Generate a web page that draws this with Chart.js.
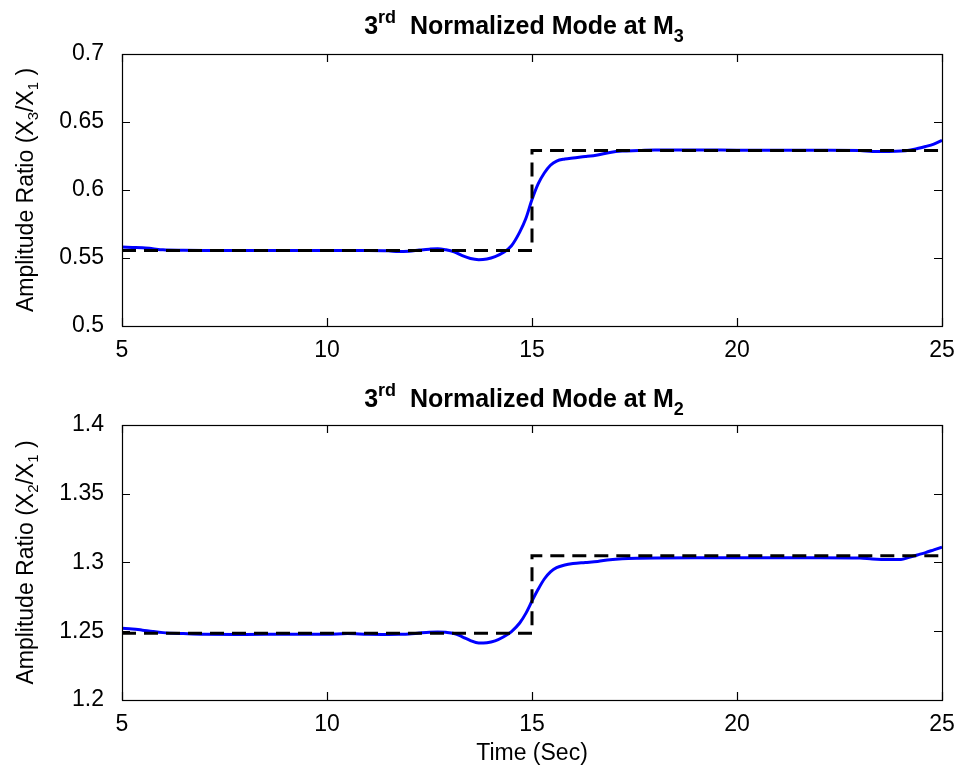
<!DOCTYPE html>
<html>
<head>
<meta charset="utf-8">
<script src="https://cdn.jsdelivr.net/npm/chart.js@4.4.0/dist/chart.umd.min.js"></script>
<style>
  body { margin: 0; background: #fff; }
  canvas { position: absolute; left: 0; }
  #modeM3 { top: 0; }
  #modeM2 { top: 370px; }
</style>
</head>
<body>
<canvas id="modeM3" width="960" height="370"></canvas>
<canvas id="modeM2" width="960" height="402"></canvas>
<script>
// measured mode shape ratios (blue) sampled over time
const timeSec = [5, 5.25, 5.5, 5.75, 6, 6.5, 7, 8, 9, 10,
  10.5, 11, 11.5, 11.75, 12, 12.25, 12.5, 12.7, 12.9, 13.1,
  13.3, 13.5, 13.7, 13.9, 14.1, 14.3, 14.5, 14.7, 14.85, 15,
  15.15, 15.3, 15.45, 15.6, 15.8, 16, 16.3, 16.6, 16.9, 17.2,
  17.6, 18, 19, 20, 21, 22, 23, 23.3, 23.7, 24,
  24.2, 24.4, 24.6, 24.8, 25];
const ampM3 = [0.5580, 0.5578, 0.5576, 0.5568, 0.5560, 0.5557, 0.5556, 0.5556, 0.5556, 0.5556,
  0.5556, 0.5556, 0.5553, 0.5547, 0.5550, 0.5558, 0.5565, 0.5568, 0.5560, 0.5545,
  0.5517, 0.5496, 0.5488, 0.5493, 0.5510, 0.5540, 0.5590, 0.5690, 0.5790, 0.5930,
  0.6045, 0.6125, 0.6182, 0.6213, 0.6228, 0.6236, 0.6246, 0.6258, 0.6276, 0.6286,
  0.6290, 0.6295, 0.6295, 0.6293, 0.6292, 0.6292, 0.6291, 0.6284, 0.6284, 0.6286,
  0.6292, 0.6305, 0.6320, 0.6338, 0.6365];
const ampM2 = [1.2522, 1.2517, 1.2508, 1.2498, 1.2490, 1.2483, 1.2478, 1.2477, 1.2479, 1.2478,
  1.2483, 1.2478, 1.2477, 1.2478, 1.2480, 1.2487, 1.2493, 1.2494, 1.2492, 1.2484,
  1.2460, 1.2432, 1.2415, 1.2417, 1.2430, 1.2458, 1.2498, 1.2560, 1.2630, 1.2720,
  1.2805, 1.2880, 1.2932, 1.2963, 1.2982, 1.2992, 1.3000, 1.3008, 1.3020, 1.3027,
  1.3031, 1.3033, 1.3035, 1.3035, 1.3035, 1.3035, 1.3033, 1.3026, 1.3022, 1.3022,
  1.3038, 1.3055, 1.3072, 1.3092, 1.3112];

// theoretical step (black dashed)
const stepTime = [5, 15, 15, 25];
const refM3 = [0.5555, 0.5555, 0.629, 0.629];
const refM2 = [1.2485, 1.2485, 1.305, 1.305];

const xTicks = [5, 10, 15, 20, 25];
const yTicksM3 = [0.5, 0.55, 0.6, 0.65, 0.7];
const yTicksM2 = [1.2, 1.25, 1.3, 1.35, 1.4];

const FONT = '"Liberation Sans", Arial, sans-serif';

function pts(xs, ys) {
  return xs.map((x, i) => ({ x: x, y: ys[i] }));
}

// draws a run of text pieces with their own size / vertical shift, centred on x
function richText(ctx, parts, x, y) {
  let w = 0;
  parts.forEach(p => {
    ctx.font = (p.bold ? 'bold ' : '') + p.size + 'px ' + FONT;
    p.w = ctx.measureText(p.t).width;
    w += p.w;
  });
  let cx = x - w / 2;
  ctx.textAlign = 'left';
  ctx.textBaseline = 'alphabetic';
  parts.forEach(p => {
    ctx.font = (p.bold ? 'bold ' : '') + p.size + 'px ' + FONT;
    ctx.fillText(p.t, cx, y + (p.dy || 0));
    cx += p.w;
  });
}

// box round the axes, inward ticks on all four sides, title and y label
const matlabAxes = {
  id: 'matlabAxes',
  afterDatasetsDraw(chart, args, o) {
    const { ctx, chartArea: a, scales } = chart;
    ctx.save();
    ctx.strokeStyle = '#000';
    ctx.lineWidth = 1.2;
    ctx.strokeRect(a.left + 0.5, a.top + 0.5, a.right - a.left, a.bottom - a.top);
    const len = 8;
    ctx.beginPath();
    scales.x.ticks.forEach(t => {
      const px = Math.round(scales.x.getPixelForValue(t.value)) + 0.5;
      ctx.moveTo(px, a.bottom); ctx.lineTo(px, a.bottom - len);
      ctx.moveTo(px, a.top); ctx.lineTo(px, a.top + len);
    });
    scales.y.ticks.forEach(t => {
      const py = Math.round(scales.y.getPixelForValue(t.value)) + 0.5;
      ctx.moveTo(a.left, py); ctx.lineTo(a.left + len, py);
      ctx.moveTo(a.right, py); ctx.lineTo(a.right - len, py);
    });
    ctx.stroke();
    ctx.restore();
  },
  afterDraw(chart, args, o) {
    const { ctx, chartArea: a } = chart;
    ctx.save();
    ctx.fillStyle = '#000';
    const mid = (a.left + a.right) / 2 - 8;
    richText(ctx, [
      { t: '3', size: 25, bold: true },
      { t: 'rd', size: 18, bold: true, dy: -11 },
      { t: '  Normalized Mode at M', size: 25, bold: true },
      { t: o.mass, size: 18, bold: true, dy: 8 }
    ], mid, o.titleY);

    ctx.translate(33, (a.top + a.bottom) / 2);
    ctx.rotate(-Math.PI / 2);
    richText(ctx, [
      { t: 'Amplitude Ratio (X', size: 23 },
      { t: o.mass, size: 15, dy: 5 },
      { t: '/X', size: 23 },
      { t: '1', size: 15, dy: 5 },
      { t: ' )', size: 23 }
    ], 0, 0);
    ctx.restore();

    if (o.xTitle) {
      ctx.save();
      ctx.fillStyle = '#000';
      richText(ctx, [{ t: o.xTitle, size: 23 }], (a.left + a.right) / 2, o.xTitleY);
      ctx.restore();
    }
  }
};

function makeChart(id, measured, reference, yTicks, opts) {
  return new Chart(document.getElementById(id), {
    type: 'line',
    data: {
      datasets: [{
        data: pts(stepTime, reference),
        borderColor: '#000',
        borderWidth: 3,
        borderDash: [14, 8],
        pointRadius: 0,
        tension: 0
      }, {
        data: pts(timeSec, measured),
        borderColor: '#0000ff',
        borderWidth: 3,
        pointRadius: 0,
        cubicInterpolationMode: 'monotone'
      }]
    },
    options: {
      responsive: false,
      animation: false,
      layout: { padding: { top: opts.top, right: 18, left: 0, bottom: 0 } },
      plugins: {
        legend: { display: false },
        tooltip: { enabled: false },
        matlabAxes: opts
      },
      scales: {
        x: {
          type: 'linear',
          min: xTicks[0],
          max: xTicks[xTicks.length - 1],
          afterBuildTicks: s => { s.ticks = xTicks.map(v => ({ value: v })); },
          afterFit: s => { s.height = opts.xHeight; },
          grid: { display: false },
          border: { display: false },
          ticks: { color: '#000', padding: 3, maxRotation: 0, font: { family: FONT, size: 23 } }
        },
        y: {
          min: yTicks[0],
          max: yTicks[yTicks.length - 1],
          afterBuildTicks: s => { s.ticks = yTicks.map(v => ({ value: v })); },
          afterFit: s => { s.width = 122; },
          grid: { display: false },
          border: { display: false },
          ticks: {
            color: '#000', padding: 10, font: { family: FONT, size: 23 },
            callback: v => String(+v.toFixed(2))
          }
        }
      }
    },
    plugins: [matlabAxes]
  });
}

makeChart('modeM3', ampM3, refM3, yTicksM3, { mass: '3', top: 54, xHeight: 44, titleY: 34 });
makeChart('modeM2', ampM2, refM2, yTicksM2, { mass: '2', top: 55, xHeight: 72, titleY: 37, xTitle: 'Time (Sec)', xTitleY: 390 });
</script>
</body>
</html>
